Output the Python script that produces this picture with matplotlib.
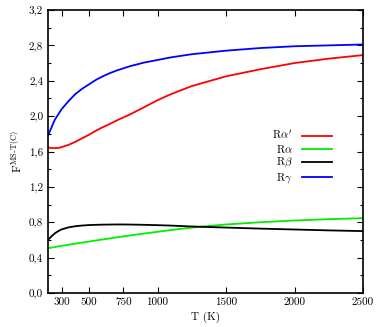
import matplotlib
matplotlib.use("Agg")
import matplotlib.pyplot as plt
from matplotlib.ticker import FuncFormatter, MultipleLocator, FixedLocator

plt.rcParams['font.family'] = ['cmr10', 'DejaVu Serif']
plt.rcParams['mathtext.fontset'] = 'cm'
plt.rcParams['axes.unicode_minus'] = False

T = [200, 225, 250, 275, 300, 350, 400, 450, 500, 550, 600, 650, 700, 750, 800,
     900, 1000, 1100, 1250, 1500, 1750, 2000, 2250, 2500]
R_gamma = [1.78, 1.87, 1.96, 2.02, 2.08, 2.17, 2.25, 2.31, 2.36, 2.41, 2.45, 2.485,
           2.515, 2.54, 2.565, 2.605, 2.635, 2.665, 2.70, 2.74, 2.77, 2.79, 2.80, 2.81]
R_alpha_p = [1.645, 1.64, 1.638, 1.64, 1.65, 1.675, 1.71, 1.75, 1.79, 1.835, 1.875, 1.91,
             1.95, 1.985, 2.02, 2.10, 2.18, 2.25, 2.34, 2.45, 2.53, 2.60, 2.65, 2.69]
R_beta = [0.60, 0.64, 0.675, 0.70, 0.72, 0.742, 0.755, 0.763, 0.768, 0.771, 0.773, 0.774,
          0.775, 0.775, 0.774, 0.771, 0.767, 0.762, 0.752, 0.74, 0.728, 0.718, 0.708, 0.70]
R_alpha = [0.506, 0.513, 0.52, 0.527, 0.533, 0.546, 0.558, 0.57, 0.582, 0.594, 0.606, 0.617,
           0.629, 0.64, 0.651, 0.672, 0.692, 0.712, 0.74, 0.775, 0.80, 0.82, 0.835, 0.846]

labels = [r"R$\alpha^{\prime}$", r"R$\alpha$", r"R$\beta$", r"R$\gamma$"]
series = [R_alpha_p, R_alpha, R_beta, R_gamma]
colors = ['#ff0000', '#00ee00', '#000000', '#0000ff']

x_ticks = [300, 500, 750, 1000, 1500, 2000, 2500]
y_ticks = [0.0, 0.4, 0.8, 1.2, 1.6, 2.0, 2.4, 2.8, 3.2]

fig = plt.figure(figsize=(3.81, 3.27), dpi=100)
ax = fig.add_axes([48/381, 34/327, 315/381, 283/327])

for y, lab, c in zip(series, labels, colors):
    ax.plot(T, y, color=c, lw=1.3, label=lab)

ax.set_xlim(200, 2500)
ax.set_ylim(0, 3.2)
ax.xaxis.set_major_locator(FixedLocator(x_ticks))
ax.yaxis.set_major_locator(FixedLocator(y_ticks))
ax.yaxis.set_minor_locator(MultipleLocator(0.2))
ax.yaxis.set_major_formatter(FuncFormatter(lambda v, p: f"{v:.1f}".replace('.', ',')))
ax.xaxis.set_major_formatter(FuncFormatter(lambda v, p: f"{int(v)}"))
ax.tick_params(which='both', direction='in', top=True, right=True, labelsize=8, width=0.8)
ax.tick_params(which='major', length=4)
ax.tick_params(which='minor', length=2)
for s in ax.spines.values():
    s.set_linewidth(1.2)

ax.set_xlabel("T (K)", fontsize=8, labelpad=3)
ax.set_ylabel(r"F$^{\mathrm{MS}\text{-}\mathrm{T(C)}}$", fontsize=8.5, labelpad=3)

leg = ax.legend(loc='center right', bbox_to_anchor=(0.9, 0.48), frameon=False,
                markerfirst=False, fontsize=8, handlelength=2.7, labelspacing=0.1,
                borderpad=0, borderaxespad=0, handletextpad=0.8)

fig.savefig("out.png", dpi=100)
